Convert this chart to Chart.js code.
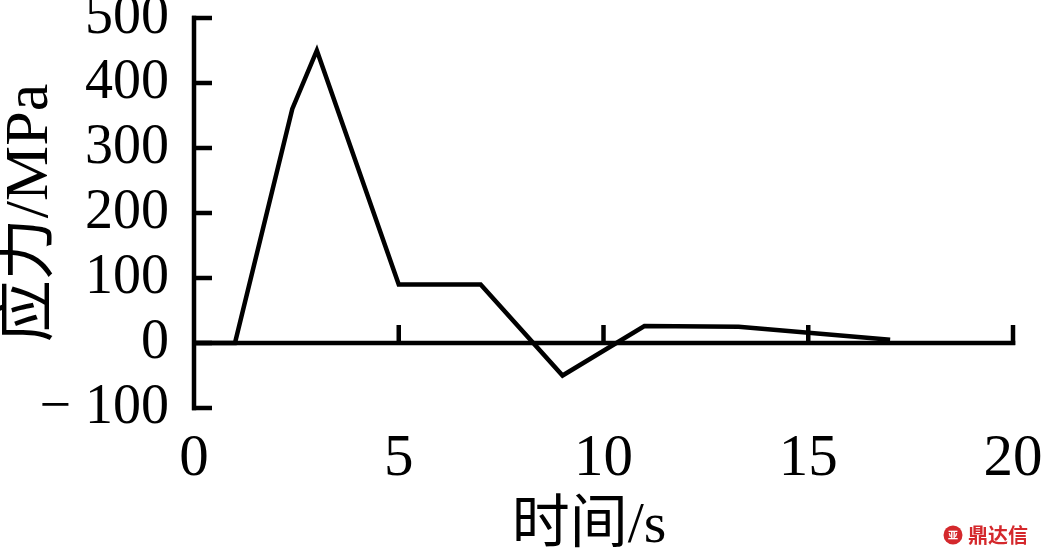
<!DOCTYPE html>
<html>
<head>
<meta charset="utf-8">
<script src="https://cdn.jsdelivr.net/npm/chart.js@4.4.1/dist/chart.umd.min.js"></script>
<style>
html,body{margin:0;padding:0;background:#fff;}
#wrap{position:relative;width:1044px;height:556px;}
</style>
</head>
<body>
<div id="wrap"><canvas id="c" width="1044" height="556"></canvas></div>
<script>
// ---- data ----
const times  = [0, 1, 2.4, 3, 5, 7, 9, 11, 13.3, 17];
const stress = [0, 0, 360, 450, 90, 90, -50, 26, 25, 5];
const xTicks = [0, 5, 10, 15, 20];
const yTicks = [-100, 0, 100, 200, 300, 400, 500];
const xTitle = '时间/s  ';
const yTitle = '应力/MPa';
const watermark = '鼎达信';

const SERIF = '"Liberation Serif", "Times New Roman", "Noto Sans CJK SC", serif';

function zeroPad(s) {
  s.paddingLeft = 0; s.paddingRight = 0; s.paddingTop = 0; s.paddingBottom = 0;
}

const axesPlugin = {
  id: 'axesPlugin',
  afterDatasetsDraw(chart) {
    const ctx = chart.ctx;
    const xs = chart.scales.x, ys = chart.scales.y;
    const x0 = xs.getPixelForValue(0);
    const y0 = ys.getPixelForValue(0);
    const tick = 18;
    ctx.save();
    ctx.strokeStyle = '#000';
    ctx.lineWidth = 4.5;
    ctx.lineCap = 'butt';
    // y axis line
    ctx.beginPath();
    ctx.moveTo(x0, ys.getPixelForValue(yTicks[yTicks.length-1]) - 2.25);
    ctx.lineTo(x0, ys.getPixelForValue(yTicks[0]) + 2.25);
    ctx.stroke();
    // y ticks (inward, to the right)
    yTicks.forEach(v => {
      const py = ys.getPixelForValue(v);
      ctx.beginPath();
      ctx.moveTo(x0 - 2, py);
      ctx.lineTo(x0 + tick, py);
      ctx.stroke();
    });
    // x axis line at y = 0
    ctx.beginPath();
    ctx.moveTo(x0, y0);
    ctx.lineTo(xs.getPixelForValue(xTicks[xTicks.length-1]) + 2.25, y0);
    ctx.stroke();
    // x ticks (upward)
    xTicks.forEach(v => {
      if (v === 0) return;
      const px = xs.getPixelForValue(v);
      ctx.beginPath();
      ctx.moveTo(px, y0 + 2);
      ctx.lineTo(px, y0 - tick);
      ctx.stroke();
    });
    // watermark
    ctx.fillStyle = '#d4282c';
    ctx.beginPath();
    ctx.arc(953, 535, 9.5, 0, Math.PI * 2);
    ctx.fill();
    ctx.fillStyle = '#fff';
    ctx.font = 'bold 10px "Noto Sans CJK SC", sans-serif';
    ctx.textAlign = 'center';
    ctx.textBaseline = 'middle';
    ctx.fillText('亚', 953, 535);
    ctx.fillStyle = '#d4282c';
    ctx.font = 'bold 20px "Noto Sans CJK SC", sans-serif';
    ctx.textAlign = 'left';
    ctx.fillText(watermark, 968, 535);
    ctx.restore();
  }
};

new Chart(document.getElementById('c'), {
  type: 'line',
  data: {
    datasets: [{
      data: times.map((t, i) => ({x: t, y: stress[i]})),
      borderColor: '#000',
      borderWidth: 4.5,
      pointRadius: 0,
      tension: 0,
      fill: false,
      borderJoinStyle: 'miter'
    }]
  },
  options: {
    responsive: false,
    animation: false,
    devicePixelRatio: 1,
    layout: {padding: {left: 0, right: 31, top: 18, bottom: 0}},
    plugins: {legend: {display: false}, tooltip: {enabled: false}},
    scales: {
      x: {
        type: 'linear',
        min: 0, max: 20,
        afterBuildTicks: s => { s.ticks = xTicks.map(v => ({value: v})); },
        afterFit: s => { s.height = 148; zeroPad(s); },
        grid: {display: false},
        border: {display: false},
        ticks: {
          color: '#000',
          font: {family: SERIF, size: 59},
          padding: 8,
          maxRotation: 0,
          autoSkip: false
        },
        title: {
          display: true,
          text: xTitle,
          color: '#000',
          font: {family: SERIF, size: 58, lineHeight: 1},
          padding: {top: 0, bottom: 0}
        }
      },
      y: {
        type: 'linear',
        min: -100, max: 500,
        afterBuildTicks: s => { s.ticks = yTicks.map(v => ({value: v})); },
        afterFit: s => { s.width = 194; zeroPad(s); },
        grid: {display: false},
        border: {display: false},
        ticks: {
          color: '#000',
          font: {family: SERIF, size: 56},
          padding: 17,
          autoSkip: false,
          callback: v => (v < 0 ? '\u2212 ' + Math.abs(v) : String(v))
        },
        title: {
          display: true,
          text: yTitle,
          color: '#000',
          font: {family: SERIF, size: 62, lineHeight: 1},
          padding: {top: 0, bottom: 0}
        }
      }
    }
  },
  plugins: [axesPlugin]
});
</script>
</body>
</html>
